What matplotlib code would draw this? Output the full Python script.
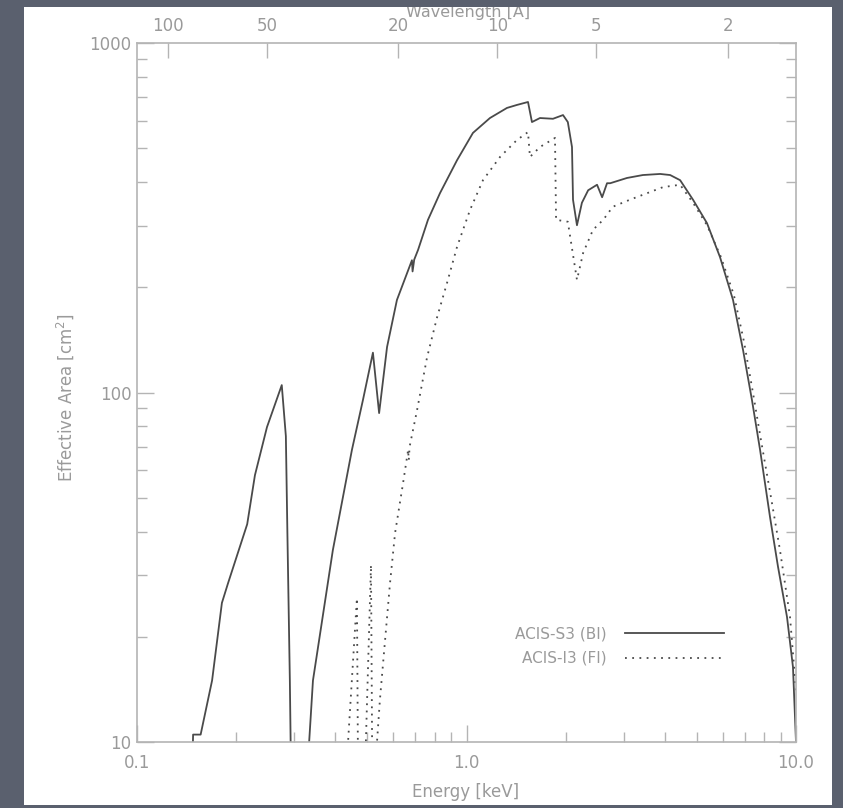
import matplotlib
matplotlib.use("Agg")
import matplotlib.pyplot as plt
import numpy as np
from matplotlib.patches import Rectangle

# ACIS-S3 (BI) effective area
energy_bi = [0.147, 0.148, 0.156, 0.169, 0.181, 0.189, 0.216, 0.228, 0.248, 0.275,
             0.283, 0.286, 0.291, 0.293, 0.300,
             0.330, 0.333, 0.342, 0.393, 0.449, 0.485, 0.520, 0.543, 0.574, 0.615,
             0.683, 0.686, 0.694, 0.713, 0.764, 0.831, 0.936, 1.046, 1.178, 1.327,
             1.423, 1.537, 1.580, 1.671, 1.83, 1.963, 2.03, 2.09, 2.105, 2.164, 2.24,
             2.34, 2.49, 2.58, 2.67, 2.73, 3.07, 3.43, 3.87, 4.15, 4.45, 4.87, 5.37,
             5.88, 6.44, 6.91, 7.35, 7.78, 8.34, 8.82, 9.39, 9.79, 10.0]
area_bi = [8, 10.5, 10.5, 15.0, 25.0, 28.5, 42, 58, 79.6, 105,
           75, 40, 15, 9, 5,
           5, 10, 15, 35.4, 68.5, 95.2, 130, 87.3, 135, 184,
           239, 222, 240, 256, 312, 372, 462, 553, 610, 652,
           665, 678, 594, 610, 607, 622, 594, 504, 356, 301, 349,
           379, 393, 362, 397, 397, 411, 419, 422, 419, 405, 356, 305,
           244, 184, 132, 95.2, 68.5, 44.0, 31.7, 22.8, 16.4, 10]

# ACIS-I3 (FI) effective area
energy_fi = [0.435, 0.437, 0.465, 0.468, 0.470, 0.493, 0.495, 0.513, 0.517, 0.520,
             0.533, 0.535, 0.546, 0.586, 0.607, 0.642, 0.665, 0.668, 0.672, 0.708,
             0.759, 0.814, 0.873, 0.936, 1.025, 1.122, 1.264, 1.423, 1.537, 1.558,
             1.671, 1.856, 1.87, 2.03, 2.06, 2.164, 2.26, 2.42, 2.60, 2.78, 3.13,
             3.95, 4.45, 4.87, 5.37, 5.92, 6.48, 6.95, 7.40, 7.83, 8.40, 8.94, 9.59,
             10.0]
area_fi = [8, 10, 25.8, 10, 8, 8, 10, 32.1, 10, 8,
           8, 10, 13.2, 28.5, 39.6, 55.1, 68.5, 64, 70, 89.1,
           126, 164, 206, 261, 333, 405, 472, 528, 556, 472,
           504, 535, 312, 308, 282, 210, 251, 292, 312, 340, 356,
           387, 393, 349, 301, 244, 190, 140, 100, 73, 50, 35.4, 22.8,
           14]

wave_ticks = [100, 50, 20, 10, 5, 2]
hc = 12.398  # keV * Angstrom

W, H = 843, 808
fig = plt.figure(figsize=(W / 100, H / 100), dpi=100)
fig.patch.set_facecolor("#5a606e")
panel = Rectangle((24 / W, 3 / H), (832 - 24) / W, (805 - 7) / H,
                  transform=fig.transFigure, facecolor="white", edgecolor="none", zorder=0)
fig.add_artist(panel)

ax = fig.add_axes([137 / W, 1 - 742 / H, (796 - 137) / W, (742 - 43) / H])
ax.set_facecolor("white")

line_col = "#4a4a4a"
axis_col = "#b4b4b4"
text_col = "#9a9a9a"

ax.plot(energy_bi, area_bi, color=line_col, lw=1.3, label="ACIS-S3 (BI)")
ax.plot(energy_fi, area_fi, color=line_col, lw=1.3, ls=(0, (1, 3)), label="ACIS-I3 (FI)")

ax.set_xscale("log")
ax.set_yscale("log")
ax.set_xlim(0.1, 10.0)
ax.set_ylim(10, 1000)

ax.set_xticks([0.1, 1.0, 10.0])
ax.set_xticklabels(["0.1", "1.0", "10.0"])
ax.set_yticks([10, 100, 1000])
ax.set_yticklabels(["10", "100", "1000"])

for s in ax.spines.values():
    s.set_color(axis_col)
    s.set_linewidth(1.2)

ax.tick_params(which="both", direction="in", colors=axis_col, labelcolor=text_col,
               labelsize=12, width=1.0, top=False, right=True)
ax.tick_params(axis="x", which="major", length=12, pad=9)
ax.tick_params(axis="x", which="minor", length=7)
ax.tick_params(axis="y", which="major", length=12, pad=4)
ax.tick_params(axis="y", which="minor", length=7)

# wavelength axis on top
ax2 = ax.twiny()
ax2.set_xscale("log")
ax2.set_xlim(0.1, 10.0)
ax2.set_xticks([hc / w for w in wave_ticks])
ax2.set_xticklabels([str(w) for w in wave_ticks])
ax2.xaxis.set_minor_locator(matplotlib.ticker.NullLocator())
ax2.tick_params(direction="in", length=11, width=1.0, colors=axis_col,
                labelcolor=text_col, labelsize=12, pad=6)
for s in ax2.spines.values():
    s.set_visible(False)

fig.text(466 / W, 1 - 792 / H, "Energy [keV]", ha="center", va="center",
         color=text_col, fontsize=12)
fig.text(65 / W, 1 - 398 / H, "Effective Area [cm$^2$]", ha="center", va="center",
         rotation=90, color=text_col, fontsize=12)
wl = fig.text(468 / W, 1 - 11 / H, "Wavelength [Å]", ha="center", va="center",
              color=text_col, fontsize=11.5)
wl.set_clip_path(panel)

leg = ax.legend(loc="lower right", bbox_to_anchor=(0.9, 0.1), frameon=False,
                fontsize=11, handlelength=6.5, markerfirst=False, labelcolor=text_col,
                borderaxespad=0, handletextpad=1.2, labelspacing=0.6)
for t in leg.get_texts():
    t.set_ha("right")

fig.savefig("out.png", dpi=100, facecolor=fig.get_facecolor())
